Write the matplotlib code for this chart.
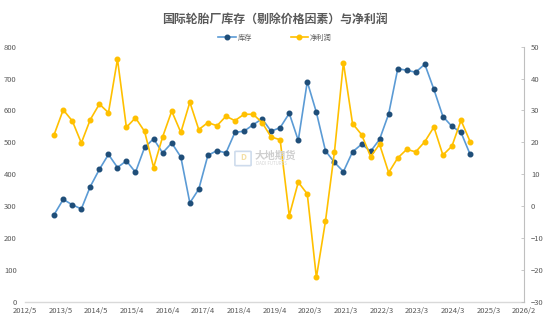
import datetime as dt
import numpy as np
import matplotlib
matplotlib.use("Agg")
import matplotlib.pyplot as plt
import matplotlib.dates as mdates
from matplotlib.ticker import FuncFormatter
from matplotlib.patches import FancyBboxPatch

plt.rcParams['font.family'] = ['Noto Sans CJK SC', 'DejaVu Sans']

# quarterly data, 2013Q1 .. 2024Q3
dates = [dt.date(2013 + i // 4, 3 + 3 * (i % 4), 1) for i in range(47)]
inventory = [273, 321, 304, 291, 361, 415, 462, 421, 442, 406,
             484, 511, 467, 498, 454, 310, 353, 459, 474, 467,
             531, 535, 555, 574, 535, 546, 591, 506, 690, 594,
             473, 437, 408, 470, 494, 472, 509, 589, 731, 726,
             720, 745, 666, 581, 550, 531, 462]
profit = [22.4, 30.2, 26.7, 19.8, 27.1, 32.0, 29.3, 46.1, 24.7, 27.7,
          23.4, 12.1, 21.7, 29.8, 23.1, 32.6, 24.0, 26.2, 25.2, 28.2,
          26.8, 28.8, 28.8, 26.2, 21.7, 20.8, -3.0, 7.5, 3.8, -22.4,
          -4.7, 17.1, 45.0, 25.9, 22.4, 15.5, 19.4, 10.5, 15.1, 17.8,
          17.0, 20.2, 24.8, 16.0, 18.8, 26.9, 20.2]

x_start = mdates.date2num(dt.date(2012, 5, 11))
x_ticks = x_start + 360 * np.arange(15)

grey = "#595959"
blue_line = "#5b9bd5"
blue_mark = "#1f4e79"
yellow = "#ffc000"

fig = plt.figure(figsize=(5.5, 3.26), dpi=100)
ax = fig.add_axes([25 / 550, 24.3 / 326, 499 / 550, 255 / 326])
ax2 = ax.twinx()

x = mdates.date2num(dates)
l1, = ax.plot(x, inventory, color=blue_line, lw=1.2, marker="o", ms=3.3,
              mfc=blue_mark, mec=blue_mark, label="库存")
l2, = ax2.plot(x, profit, color=yellow, lw=1.2, marker="o", ms=3.3,
               mfc=yellow, mec=yellow, label="净利润")

ax.set_xlim(x_ticks[0], x_ticks[-1])
ax.set_xticks(x_ticks)
ax.xaxis.set_major_formatter(FuncFormatter(
    lambda v, p: "{}/{}".format(mdates.num2date(v).year, mdates.num2date(v).month)))
ax.set_ylim(0, 800)
ax.set_yticks(range(0, 801, 100))
ax2.set_ylim(-30, 50)
ax2.set_yticks(range(-30, 51, 10))

for s in ["top", "left", "right"]:
    ax.spines[s].set_visible(False)
ax.spines["bottom"].set_color("#d9d9d9")
ax.spines["bottom"].set_linewidth(1.0)
for s in ["top", "left", "bottom"]:
    ax2.spines[s].set_visible(False)
ax2.spines["right"].set_color("#bfbfbf")
ax2.spines["right"].set_linewidth(0.8)

ax.tick_params(axis="x", length=0, pad=4, labelsize=5.5, labelcolor=grey)
ax.tick_params(axis="y", length=0, pad=6, labelsize=5.5, labelcolor=grey)
ax2.tick_params(axis="y", direction="in", length=2, width=0.6, color="#bfbfbf",
                pad=5, labelsize=5.5, labelcolor=grey)

fig.text(0.5, 1 - 19.5 / 326, "国际轮胎厂库存（剔除价格因素）与净利润",
         ha="center", va="center", fontsize=8.6, fontweight="bold", color=grey)

fig.legend(handles=[l1, l2], loc="center", bbox_to_anchor=(0.5, 1 - 38 / 326),
           ncol=2, frameon=False, fontsize=5.2, labelcolor=grey,
           handlelength=2.4, handletextpad=0.3, columnspacing=5.3)

# watermark
fig.patches.append(FancyBboxPatch((236 / 550, 1 - 165 / 326), 14 / 550, 13 / 326,
                                  boxstyle="round,pad=0.002", transform=fig.transFigure,
                                  fc="none", ec="#c9d8ea", lw=1.2, alpha=0.9))
fig.text(243 / 550, 1 - 158 / 326, "D", ha="center", va="center", fontsize=6,
         color="#f3dfa6", fontweight="bold")
fig.text(255 / 550, 1 - 156 / 326, "大地期货", ha="left", va="center",
         fontsize=7.5, color="#cfcfcf", fontweight="bold")
fig.text(256 / 550, 1 - 163.5 / 326, "DADI FUTURES", ha="left", va="center",
         fontsize=3.2, color="#d5d5d5")

fig.savefig("out.png", dpi=100)
